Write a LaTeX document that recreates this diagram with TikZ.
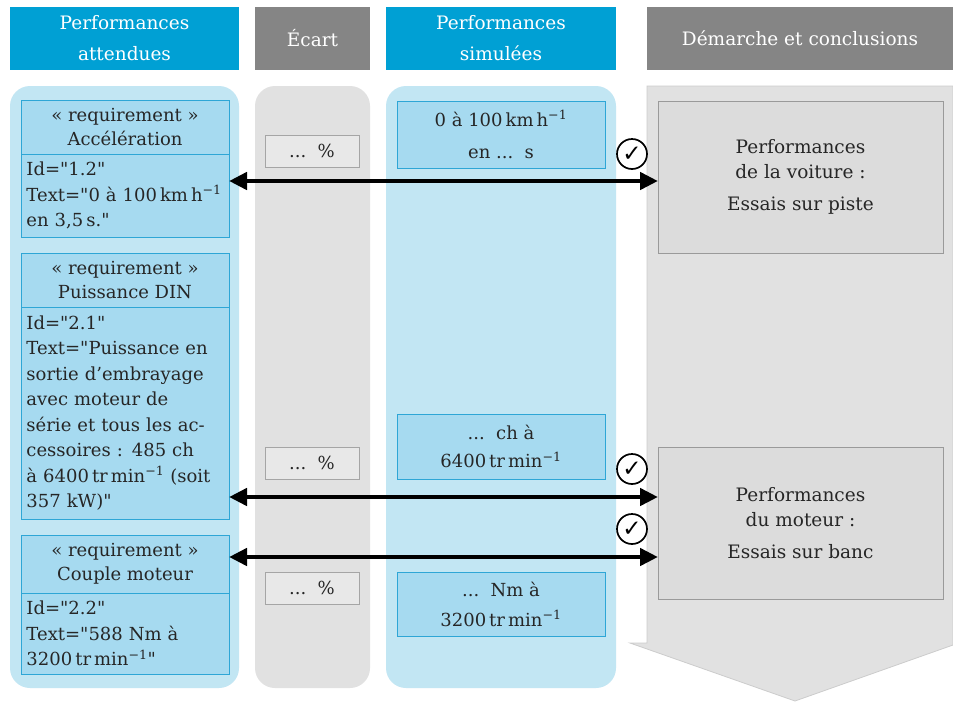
\documentclass[tikz,border=0pt]{standalone}
\usepackage{fontspec}
\setmainfont{DejaVu Serif}[Ligatures=TeXOff]
\newfontfamily\symfont{DejaVu Sans}
\usetikzlibrary{arrows.meta}
\definecolor{hblue}{HTML}{00A0D4}
\definecolor{hgrey}{HTML}{858585}
\definecolor{cblue}{HTML}{C2E6F3}
\definecolor{cgrey}{HTML}{E1E1E1}
\definecolor{bblue}{HTML}{A6DAF0}
\definecolor{bbord}{HTML}{2EA6D6}
\definecolor{sgrey}{HTML}{E8E8E8}
\definecolor{sbord}{HTML}{A5A5A5}
\definecolor{dgrey}{HTML}{DCDCDC}
\definecolor{dbord}{HTML}{9A9A9A}
\definecolor{txt}{HTML}{262626}
\newcommand{\mone}{\textsuperscript{−1}}
\tikzset{
  hdr/.style={minimum height=63pt, anchor=north west, inner sep=0pt, outer sep=0pt, text=white, align=center, font=\fontsize{18.5}{31}\selectfont},
  hdrb/.style={hdr, fill=hblue},
  hdrg/.style={hdr, fill=hgrey},
  reqhead/.style={draw=bbord, fill=bblue, line width=0.8pt, minimum width=208pt, anchor=north west, inner sep=0pt, outer sep=0pt, align=center, text=txt, font=\fontsize{18}{24}\selectfont},
  reqbody/.style={draw=bbord, fill=bblue, line width=0.8pt, text width=197pt, inner xsep=5.5pt, inner ysep=0pt, anchor=north west, outer sep=0pt, align=left, text=txt, font=\fontsize{18}{25.5}\selectfont},
  ecbox/.style={draw=sbord, fill=sgrey, line width=0.8pt, minimum width=94pt, minimum height=32pt, anchor=north west, inner sep=0pt, outer sep=0pt, text=txt, font=\fontsize{18}{22}\selectfont},
  simbox/.style={draw=bbord, fill=bblue, line width=0.8pt, minimum width=208pt, anchor=north west, inner sep=0pt, outer sep=0pt, align=center, text=txt},
  conbox/.style={draw=dbord, fill=dgrey, line width=0.8pt, minimum width=285pt, anchor=north west, inner sep=0pt, outer sep=0pt, align=center, text=txt},
  chk/.style={circle, draw=black, line width=1.7pt, minimum size=30pt, inner sep=0pt, font=\symfont\fontsize{23}{23}\selectfont},
  dbl/.style={line width=4.5pt, {Triangle[length=18pt,width=17pt]}-{Triangle[length=18pt,width=17pt]}}
}
\begin{document}
\begin{tikzpicture}[x=1pt,y=-1pt]
\useasboundingbox (0,0) rectangle (953,702);
\fill[white] (0,0) rectangle (953,702);
% headers
\node[hdrb, minimum width=229pt] (h1) at (10,7) {Performances\\attendues};
\node[hdrg, minimum width=115pt] (h2) at (255,7) {Écart};
\node[hdrb, minimum width=230pt] (h3) at (386,7) {Performances\\simulées};
\node[hdrg, minimum width=306pt] (h4) at (647,7) {Démarche et conclusions};
% columns
\fill[cblue, rounded corners=20pt] (10,86) rectangle (239,688);
\fill[cgrey, rounded corners=20pt] (255,86) rectangle (370,688);
\fill[cblue, rounded corners=20pt] (386,86) rectangle (616,688);
\filldraw[fill=cgrey, draw=black!20, line width=0.8pt] (647,86) -- (953,86) -- (953,645) -- (795,701) -- (630,643) -- (647,643) -- cycle;
% requirements
\node[reqhead, minimum height=54pt] (r1h) at (21,100) {« requirement »\\Accélération};
\node[reqbody, minimum height=83pt] (r1b) at (21,154) {Id="1.2"\\Text="0 à 100\,km\,h\mone\\en 3,5\,s."};
\node[reqhead, minimum height=54pt] (r2h) at (21,253) {« requirement »\\Puissance DIN};
\node[reqbody, minimum height=212pt] (r2b) at (21,307) {Id="2.1"\\Text="Puissance en\\sortie d’embrayage\\avec moteur de\\série et tous les ac-\\cessoires : 485 ch\\à 6400\,tr\,min\mone{} (soit\\357 kW)"};
\node[reqhead, minimum height=58pt] (r3h) at (21,535) {« requirement »\\Couple moteur};
\node[reqbody, minimum height=81pt] (r3b) at (21,593) {Id="2.2"\\Text="588 Nm à\\3200\,tr\,min\mone"};
% ecart
\node[ecbox] (e1) at (265,135) {...\ \ \%};
\node[ecbox] (e2) at (265,447) {...\ \ \%};
\node[ecbox] (e3) at (265,572) {...\ \ \%};
% simulated
\node[simbox, minimum height=67pt, font=\fontsize{18}{32}\selectfont] (s1) at (397,101) {0 à 100\,km\,h\mone\\en ...\ \ s};
\node[simbox, minimum height=65pt, font=\fontsize{18}{28}\selectfont] (s2) at (397,414) {...\ \ ch à\\6400\,tr\,min\mone};
\node[simbox, minimum height=64pt, font=\fontsize{18}{30}\selectfont] (s3) at (397,572) {...\ \ Nm à\\3200\,tr\,min\mone};
% conclusions
\node[conbox, minimum height=152pt, font=\fontsize{18.5}{25}\selectfont] (v1) at (658,101) {Performances\\de la voiture :\\[7pt]Essais sur piste};
\node[conbox, minimum height=152pt, font=\fontsize{18.5}{25}\selectfont] (v2) at (658,447) {Performances\\du moteur :\\[7pt]Essais sur banc};
% checks
\node[chk] (c1) at (632,154) {✓};
\node[chk] (c2) at (632,469) {✓};
\node[chk] (c3) at (632,529) {✓};
% arrows
\coordinate (y1) at (0,181);
\coordinate (y2) at (0,497);
\coordinate (y3) at (0,557);
\draw[dbl] (r1b.east |- y1) -- (v1.west |- y1);
\draw[dbl] (r2b.east |- y2) -- (v2.west |- y2);
\draw[dbl] (r3h.east |- y3) -- (v2.west |- y3);
\end{tikzpicture}
\end{document}
